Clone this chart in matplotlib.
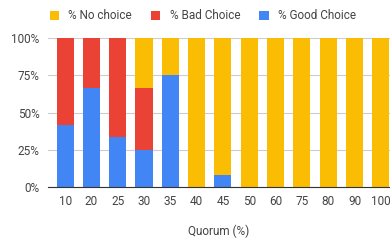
import numpy as np
import matplotlib.pyplot as plt
from matplotlib.ticker import PercentFormatter

# =========================
# Data
# =========================
quorum = ["10", "20", "25", "30", "35", "40", "45", "50", "60", "75", "80", "90", "100"]
good_choice = [41.7, 66.7, 33.3, 25.0, 75.0, 0, 8.3, 0, 0, 0, 0, 0, 0]
bad_choice = [58.3, 33.3, 66.7, 41.7, 0, 0, 0, 0, 0, 0, 0, 0, 0]
no_choice = [0, 0, 0, 33.3, 25.0, 100, 91.7, 100, 100, 100, 100, 100, 100]

# =========================
# Plot
# =========================
plt.rcParams['font.family'] = ['Roboto', 'DejaVu Sans']

fig = plt.figure(figsize=(3.9, 2.42), dpi=100)
ax = fig.add_axes([0.123, 0.227, 0.877, 0.616])

x = np.arange(len(quorum))
good = np.array(good_choice)
bad = np.array(bad_choice)
none = np.array(no_choice)
w = 0.65

ax.bar(x, good, w, color="#4285F4", label="% Good Choice", zorder=3)
ax.bar(x, bad, w, bottom=good, color="#EA4335", label="% Bad Choice", zorder=3)
ax.bar(x, none, w, bottom=good + bad, color="#FBBC04", label="% No choice", zorder=3)

ax.set_xlim(-0.65, 12.35)
ax.set_ylim(0, 100)
ax.set_yticks([0, 25, 50, 75, 100])
ax.yaxis.set_major_formatter(PercentFormatter(decimals=0))
ax.set_xticks(x)
ax.set_xticklabels(quorum)
ax.grid(axis='y', color="#CCCCCC", linewidth=0.8, zorder=0)
for s in ["top", "right", "left"]:
    ax.spines[s].set_visible(False)
ax.spines["bottom"].set_color("#333333")
ax.spines["bottom"].set_zorder(4)
ax.tick_params(length=0, labelsize=8.5, colors="#444444", pad=6)
ax.set_xlabel("Quorum (%)", fontsize=8.5, color="#444444", labelpad=12)

handles, labels = ax.get_legend_handles_labels()
fig.legend(handles[::-1], labels[::-1], loc="center", bbox_to_anchor=(0.52, 0.935),
           ncol=3, frameon=False, fontsize=8.5, handlelength=0.8, handleheight=0.8,
           columnspacing=1.6, handletextpad=0.8, labelcolor="#444444")

plt.savefig("out.png", dpi=100)
plt.close()
